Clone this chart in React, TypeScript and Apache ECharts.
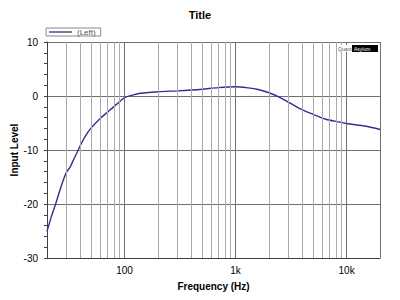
import React, { useEffect, useRef } from "react";
import * as echarts from "echarts";

const freqs = [20, 22, 24, 26.2, 28, 30, 32.2, 34, 37, 41, 45, 50, 60, 70, 85, 100, 120, 140, 200, 300, 400, 500, 700, 1000, 1300, 1600, 2000, 2500, 3000, 3750, 5000, 6500, 8500, 10000, 15000, 20000];
const levels = [-25.1, -22.2, -19.9, -17.4, -15.6, -14.1, -13.2, -12.2, -10.6, -8.7, -7.2, -5.9, -4.2, -3.0, -1.5, -0.3, 0.2, 0.5, 0.8, 0.95, 1.1, 1.25, 1.55, 1.7, 1.5, 1.2, 0.6, -0.25, -1.15, -2.3, -3.4, -4.3, -4.8, -5.1, -5.6, -6.2];
const minorGrid = [30, 40, 50, 60, 70, 80, 90, 200, 300, 400, 500, 600, 700, 800, 900, 2000, 3000, 4000, 5000, 6000, 7000, 8000, 9000];
const majorGrid = [100, 1000, 10000, 20000];
const xLabels: Record<number, string> = { 100: "100", 1000: "1k", 10000: "10k" };

const FONT = "Liberation Sans, Arial, sans-serif";

export default function App() {
  const ref = useRef<HTMLDivElement>(null);
  useEffect(() => {
    if (!ref.current) return;
    const chart = echarts.init(ref.current, undefined, { renderer: "svg" });
    chart.setOption({
      animation: false,
      backgroundColor: "#ffffff",
      title: {
        text: "Title",
        left: "center",
        top: 4,
        textStyle: { fontSize: 11, fontWeight: "bold", color: "#000", fontFamily: FONT },
      },
      legend: {
        left: 46,
        top: 28,
        padding: [0, 5, 0, 3],
        borderColor: "#888",
        borderWidth: 1,
        itemWidth: 23,
        itemHeight: 2,
        icon: "rect",
        data: [{ name: "(Left)", itemStyle: { color: "#7a7ab0" } }],
        textStyle: { fontSize: 8, lineHeight: 8, color: "#555", fontFamily: FONT },
      },
      grid: { left: 47, right: 20, top: 42, bottom: 42, outerBoundsMode: "none", containLabel: false },
      xAxis: {
        type: "log",
        logBase: 10,
        min: 20,
        max: 20000,
        name: "Frequency (Hz)",
        nameLocation: "middle",
        nameGap: 23,
        nameMoveOverlap: false,
        nameTextStyle: { fontSize: 10, fontWeight: "bold", color: "#000", fontFamily: FONT },
        axisLine: { onZero: false, lineStyle: { color: "#404040", width: 1 } },
        axisTick: { show: false },
        splitLine: { show: false },
        axisLabel: {
          customValues: [100, 1000, 10000],
          margin: 7,
          fontSize: 10,
          color: "#000",
          fontFamily: FONT,
          formatter: (v: number) => xLabels[Math.round(v)] ?? "",
        },
      },
      yAxis: {
        type: "value",
        min: -30,
        max: 10,
        interval: 10,
        name: "Input Level",
        nameLocation: "middle",
        nameGap: 28,
        nameMoveOverlap: false,
        nameTextStyle: { fontSize: 10, fontWeight: "bold", color: "#000", fontFamily: FONT },
        axisLine: { show: true, lineStyle: { color: "#404040", width: 1 } },
        axisTick: { show: true, length: 3, lineStyle: { color: "#404040" } },
        minorTick: { show: true, splitNumber: 5, length: 3, lineStyle: { color: "#404040" } },
        splitLine: { show: true, lineStyle: { color: "#707070", width: 1 } },
        axisLabel: { margin: 9, fontSize: 10, color: "#000", fontFamily: FONT },
      },
      graphic: [
        { type: "rect", left: 337, top: 45, z: 10, shape: { width: 15, height: 7 }, style: { fill: "#fff" } },
        { type: "text", left: 338, top: 46, z: 11, style: { text: "Quant", fontSize: 5, fill: "#555", fontFamily: FONT } },
        { type: "rect", left: 352, top: 45, z: 10, shape: { width: 26, height: 7 }, style: { fill: "#000" } },
        { type: "text", left: 354, top: 46, z: 11, style: { text: "Asylum", fontSize: 5, fill: "#fff", fontFamily: FONT } },
      ],
      series: [
        {
          name: "grid",
          type: "line",
          data: [],
          z: 1,
          silent: true,
          markLine: {
            silent: true,
            symbol: "none",
            label: { show: false },
            data: [
              ...minorGrid.map((v) => ({ xAxis: v, lineStyle: { color: "#ababab", width: 1, type: "solid" } })),
              ...majorGrid.map((v) => ({ xAxis: v, lineStyle: { color: "#707070", width: 1, type: "solid" } })),
            ],
          },
        },
        {
          name: "(Left)",
          type: "line",
          z: 3,
          data: freqs.map((f, i) => [f, levels[i]]),
          showSymbol: false,
          smooth: 0.3,
          lineStyle: { color: "#2e2e99", width: 1.4 },
          itemStyle: { color: "#2e2e99" },
        },
      ],
    });
    return () => chart.dispose();
  }, []);
  return <div ref={ref} style={{ width: 400, height: 300, margin: -8 }} />;
}
